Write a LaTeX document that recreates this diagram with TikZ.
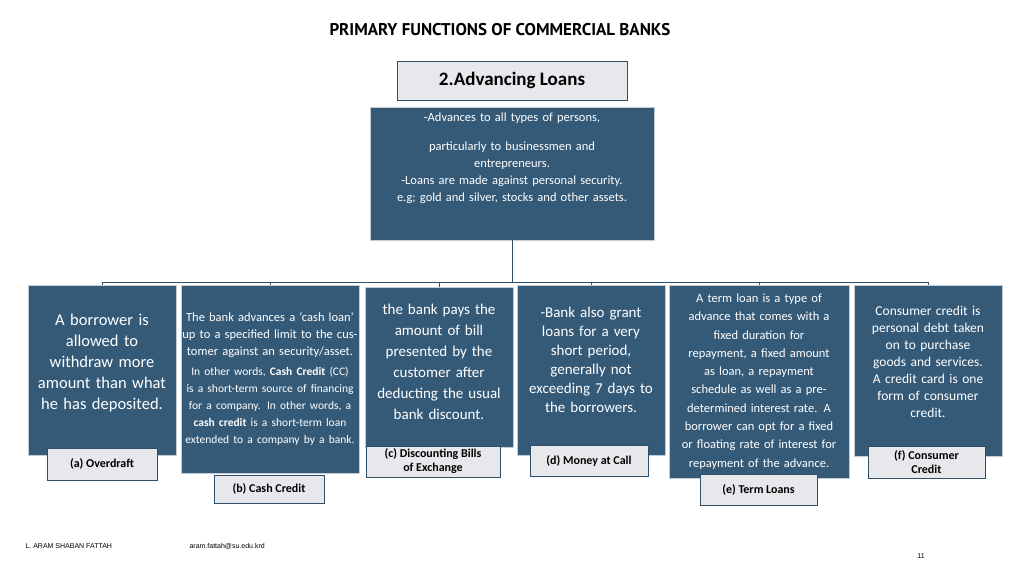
\documentclass[tikz,border=0pt]{standalone}
\usepackage{fontspec}
\setmainfont{Carlito}
\newfontfamily\titlefont{PT Sans}
\setsansfont{Liberation Sans}
\definecolor{bankblue}{HTML}{355A78}
\definecolor{bankedge}{HTML}{2E4F6A}
\definecolor{labelgray}{HTML}{E6E8EB}
\tikzset{
  info/.style={draw=white!70!bankblue,fill=bankblue,text=white,align=center,inner sep=1pt},
  tag/.style={draw=bankedge,fill=labelgray,font=\bfseries\fontsize{12}{12}\selectfont,align=center,inner sep=1pt,line width=0.8pt},
  link/.style={draw=bankedge,line width=1pt}
}
\begin{document}
\begin{tikzpicture}[x=1pt,y=-1pt]
\useasboundingbox[fill=white] (0,0) rectangle (1024,576);
\node[font=\titlefont\bfseries\fontsize{17}{17}\selectfont] (title) at (500,30) {PRIMARY FUNCTIONS OF COMMERCIAL BANKS};
\node[tag,minimum width=230,minimum height=39,font=\bfseries\fontsize{19}{19}\selectfont,line width=1pt] (head) at (512,80.5) {2.Advancing Loans};
\node[info,minimum width=284,minimum height=133,text width=280,font=\fontsize{12.5}{17}\selectfont,anchor=north] (main) at (512,107)
  {\vspace*{12pt}-Advances to all types of persons,\\ particularly to businessmen and\\ entrepreneurs.\\ -Loans are made against personal security.\\ e.g; gold and silver, stocks and other assets.\par\vspace*{30pt}};
% boxes of the six kinds of loans
\node[info,minimum width=146,minimum height=170,text width=146,font=\fontsize{16.5}{21}\selectfont] (boxa) at (102,370)
  {A borrower is\\ allowed to\\ withdraw more\\ amount than what\\ he has deposited.\par\vspace*{14pt}};
\node[info,minimum width=176,minimum height=188,text width=176,font=\fontsize{12.5}{17}\selectfont] (boxb) at (270,379)
  {The bank advances a ‘cash loan’ up to a specified limit to the customer against an security/asset.\par\vspace{3pt}
  {\fontsize{11.5}{16}\selectfont In other words, \textbf{Cash Credit} (CC) is a short-term source of financing for a company. In other words, a \textbf{cash credit} is a short-term loan extended to a company by a bank.}};
\node[info,minimum width=146,minimum height=160,text width=146,font=\fontsize{15}{21}\selectfont] (boxc) at (439,367)
  {the bank pays the amount of bill presented by the customer after deducting the usual bank discount.\par\vspace*{10pt}};
\node[info,minimum width=146,minimum height=170,text width=146,font=\fontsize{15}{19}\selectfont] (boxd) at (591,370)
  {-Bank also grant\\ loans for a very\\ short period,\\ generally not\\ exceeding 7 days to\\ the borrowers.\par\vspace*{20pt}};
\node[info,minimum width=178,minimum height=193,text width=178,font=\fontsize{12.5}{18.3}\selectfont] (boxe) at (759,381.5)
  {A term loan is a type of\\ advance that comes with a\\ fixed duration for\\ repayment, a fixed amount\\ as loan, a repayment\\ schedule as well as a pre-\\ determined interest rate. A\\ borrower can opt for a fixed\\ or floating rate of interest for\\ repayment of the advance.};
\node[info,minimum width=146,minimum height=171,text width=146,font=\fontsize{13.5}{17}\selectfont] (boxf) at (928,370.5)
  {Consumer credit is\\ personal debt taken\\ on to purchase\\ goods and services.\\ A credit card is one\\ form of consumer\\ credit.\par\vspace*{18pt}};
% name tags
\node[tag,minimum width=110,minimum height=32] (taga) at (102,464) {(a) Overdraft};
\node[tag,minimum width=110,minimum height=28] (tagb) at (269,489) {(b) Cash Credit};
\node[tag,minimum width=134,minimum height=31,font=\bfseries\fontsize{12}{14}\selectfont] (tagc) at (433,461.5) {(c) Discounting Bills\\ of Exchange};
\node[tag,minimum width=118,minimum height=31] (tagd) at (589,460.5) {(d) Money at Call};
\node[tag,minimum width=117,minimum height=31] (tage) at (758.5,489.5) {(e) Term Loans};
\node[tag,minimum width=117,minimum height=32,font=\bfseries\fontsize{12}{14}\selectfont] (tagf) at (926.5,462) {(f) Consumer\\ Credit};
% tree connectors
\coordinate (split) at (512,282);
\draw[link] (main.south) -- (split);
\foreach \b in {boxa,boxb,boxc,boxd,boxe,boxf}
  \draw[link] (split) -| (\b.north);
% footer
\node[font=\sffamily\fontsize{7}{7}\selectfont,anchor=west] (author) at (22,546) {L. ARAM SHABAN FATTAH};
\node[font=\sffamily\fontsize{7}{7}\selectfont,anchor=west] (mail) at (186,546) {aram.fattah@su.edu.krd};
\node[font=\sffamily\fontsize{7}{7}\selectfont] (page) at (921,556) {11};
\end{tikzpicture}
\end{document}
